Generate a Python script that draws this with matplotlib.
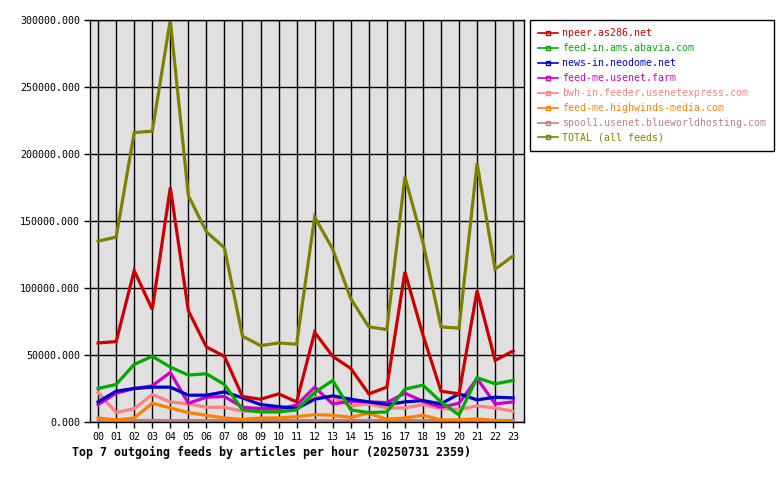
import matplotlib
matplotlib.use("Agg")
import matplotlib.pyplot as plt
from matplotlib.lines import Line2D

hours = ["%02d" % h for h in range(24)]

npeer = [59000, 60000, 113000, 84000, 175000, 83000, 56000, 49000, 19000, 17000, 21000, 15000,
         67000, 49000, 40000, 21000, 26000, 112000, 65000, 23000, 21000, 98000, 46000, 53000]
abavia = [25000, 28000, 43000, 49000, 41000, 35000, 36000, 28000, 9000, 7500, 7500, 9000,
          22000, 31000, 9000, 7000, 7500, 24500, 27500, 15000, 5200, 33000, 28500, 31000]
neodome = [15000, 23000, 25000, 26000, 26000, 20000, 20000, 22500, 18000, 13000, 11500, 10000,
           17000, 19500, 17000, 15000, 13000, 15000, 16000, 13500, 21000, 16500, 18500, 18000]
usenetfarm = [13000, 21500, 25000, 27000, 37000, 14000, 18500, 19000, 11000, 10000, 10000, 12500,
              26000, 13500, 15500, 15000, 14500, 21500, 15500, 11000, 14000, 32500, 13500, 15000]
usenetexpress = [22000, 7000, 10000, 20500, 15000, 13500, 11000, 11000, 8000, 9000, 8500, 10000,
                 18500, 18500, 12000, 13500, 10500, 10500, 13000, 10000, 9500, 12000, 10500, 8000]
highwinds = [3000, 1500, 3000, 14000, 10500, 7000, 5000, 3000, 2000, 3000, 3000, 4000,
             5500, 5000, 3500, 6500, 2000, 3000, 5000, 1500, 1500, 2500, 1000, 0]
blueworld = [1200] * 24
total = [135000, 138000, 216000, 217000, 300000, 169000, 142000, 130000, 64000, 57000, 59000, 58000,
         153000, 129000, 92000, 71000, 69000, 183000, 134000, 71000, 70000, 193000, 114000, 124000]

feeds = [
    ("npeer.as286.net", npeer, "#cc0000"),
    ("feed-in.ams.abavia.com", abavia, "#00aa00"),
    ("news-in.neodome.net", neodome, "#0000cc"),
    ("feed-me.usenet.farm", usenetfarm, "#cc00cc"),
    ("bwh-in.feeder.usenetexpress.com", usenetexpress, "#ff8080"),
    ("feed-me.highwinds-media.com", highwinds, "#ff8000"),
    ("spool1.usenet.blueworldhosting.com", blueworld, "#c08080"),
    ("TOTAL (all feeds)", total, "#808000"),
]

plt.rcParams['font.family'] = ['DejaVu Sans Mono']

fig = plt.figure(figsize=(7.8, 4.8), dpi=100)
ax = fig.add_axes([90 / 780, 1 - 422 / 480, 434 / 780, 402 / 480])
ax.set_facecolor("#e0e0e0")

x = list(range(24))
# draw in reverse so npeer ends up on top like the original
for name, vals, col in reversed(feeds):
    ax.plot(x, vals, color=col, linewidth=2.3, solid_joinstyle="miter")

ax.set_xlim(-0.45, 23.6)
ax.set_ylim(0, 300000)
ax.set_xticks(x)
ax.set_xticklabels(hours, fontsize=7.2)
yt = [0, 50000, 100000, 150000, 200000, 250000, 300000]
ax.set_yticks(yt)
ax.set_yticklabels(["%.3f" % v for v in yt], fontsize=7.2)
ax.tick_params(direction="out", length=4, width=1, color="black", pad=3)
ax.grid(True, color="black", linewidth=1, linestyle="-")
ax.set_axisbelow(True)
for s in ax.spines.values():
    s.set_color("black")
    s.set_linewidth(1)

handles = [Line2D([0], [0], color=col, linewidth=1.2, marker="s", markersize=3,
                  markerfacecolor="none", markeredgecolor=col)
           for name, vals, col in feeds]
leg = fig.legend(handles, [f[0] for f in feeds], loc="upper left",
                 bbox_to_anchor=(530 / 780, 1 - 20 / 480), borderaxespad=0,
                 fontsize=7.1, frameon=True, fancybox=False, framealpha=1,
                 edgecolor="black", handlelength=2.0, handletextpad=0.4,
                 labelspacing=0.5, borderpad=0.85, numpoints=1)
leg.get_frame().set_linewidth(1)
for txt, f in zip(leg.get_texts(), feeds):
    txt.set_color(f[2])

fig.text(72 / 780, 1 - 452 / 480, "Top 7 outgoing feeds by articles per hour (20250731 2359)",
         fontsize=8.4, fontweight="bold", ha="left", va="center")

fig.savefig("out.png", dpi=100)
